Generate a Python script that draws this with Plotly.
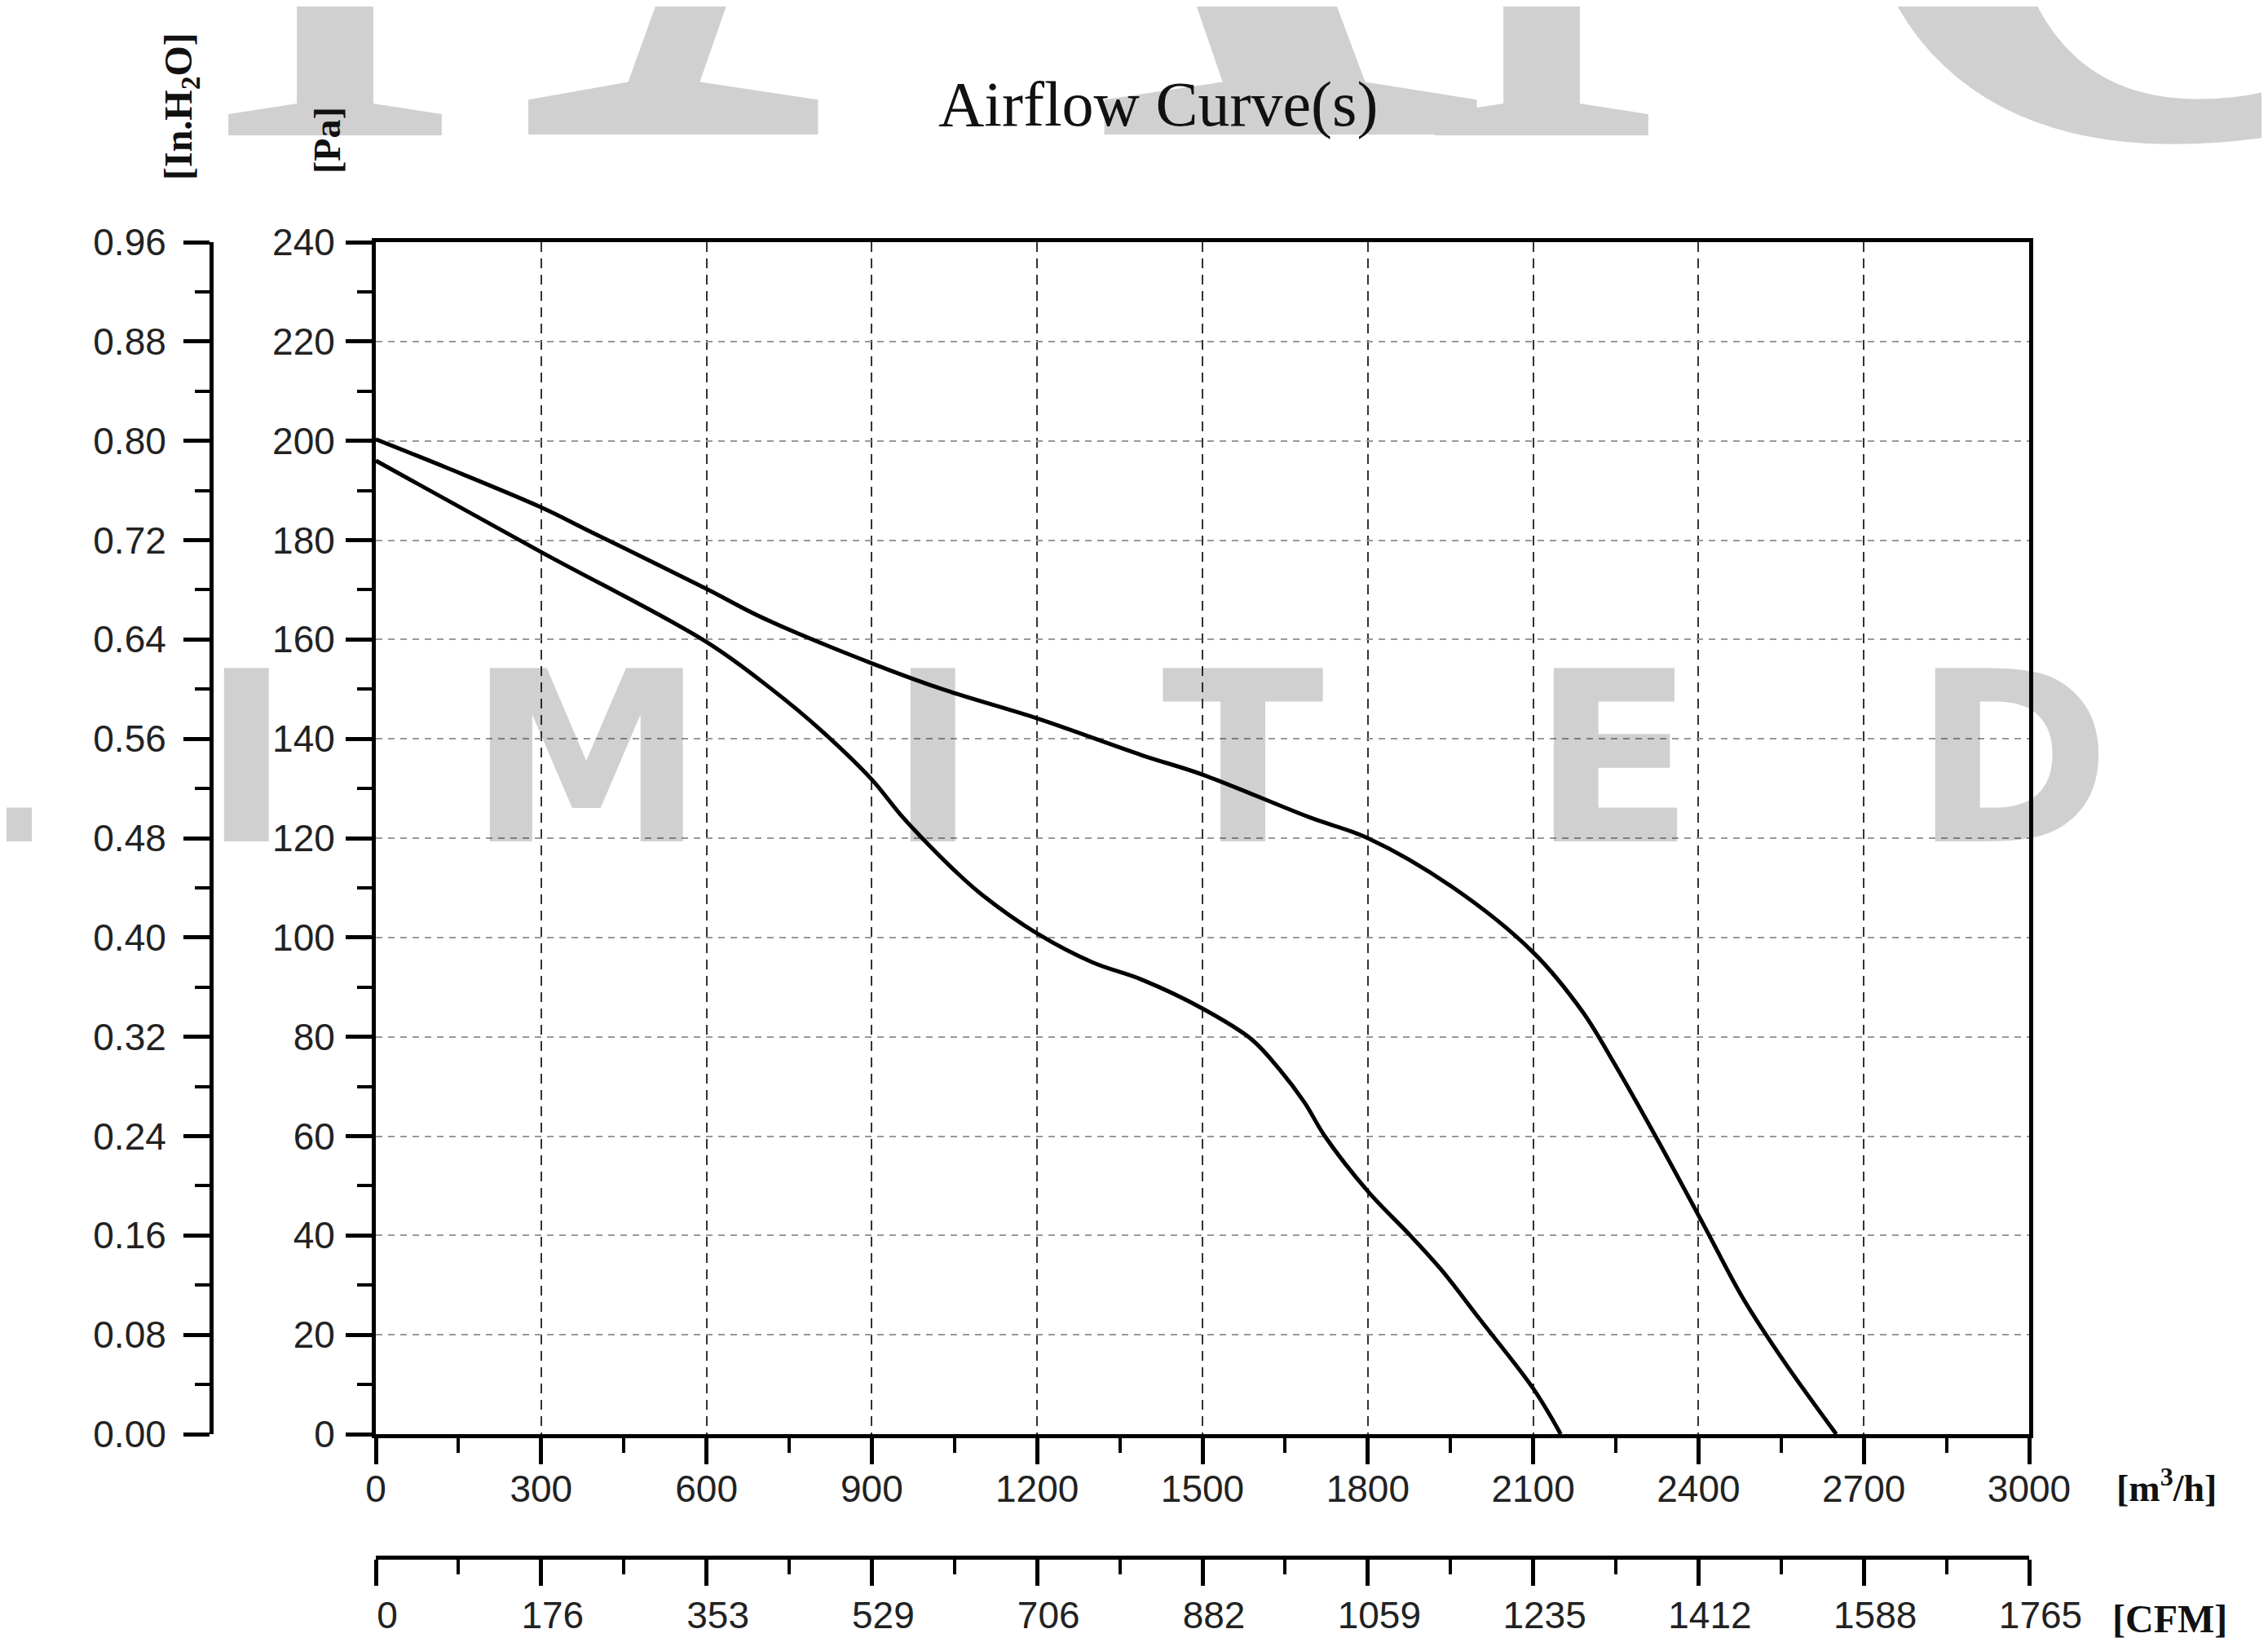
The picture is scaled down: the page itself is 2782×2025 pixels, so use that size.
import plotly.graph_objects as go

W, H = 2782, 2025

# ---------------- data ----------------
upper_flow = [0, 128, 300, 386, 600, 703, 900, 1033, 1200, 1390, 1500, 1694, 1800, 1954,
              2100, 2190, 2240, 2322, 2410, 2480, 2556, 2650]
upper_pa = [200.3, 194.6, 186.6, 181.9, 170.2, 164.3, 155.2, 149.8, 144.1, 136.7, 132.8, 124.2,
            120.0, 110.1, 97.0, 85.0, 76.0, 60.0, 42.0, 27.5, 14.5, 0.0]

lower_flow = [0, 300, 600, 717, 808, 900, 950, 1000, 1050, 1100, 1200, 1300, 1390, 1500, 1589,
              1640, 1685, 1722, 1800, 1877, 1934, 2002, 2100, 2150]
lower_pa = [196.0, 177.6, 159.5, 150.1, 141.7, 131.8, 125.0, 119.0, 113.5, 108.6, 100.8, 95.0,
            91.5, 85.7, 79.5, 73.4, 66.8, 60.0, 48.9, 40.0, 33.0, 23.3, 9.2, 0.0]

flow_ticks = [0, 300, 600, 900, 1200, 1500, 1800, 2100, 2400, 2700, 3000]
cfm_labels = ["0", "176", "353", "529", "706", "882", "1059", "1235", "1412", "1588", "1765"]

title_text = "Airflow Curve(s)"
wm_row1 = ["I", "A", "I", "<b>C</b>"]
wm_row2 = ["L", "I", "M", "I", "T", "E", "D"]

# ---------------- layout helpers (page pixel -> paper; page body has an 8px margin) ----------
OFF = 8

def fx(px):
    return (px - OFF) / W

def fy(py):
    return 1 - (py - OFF) / H

PL, PR, PT, PB = 461, 2489, 297, 1759
TICKFONT = dict(family="Liberation Sans, Arial, sans-serif", size=46, color="#222")
SERIF = "Liberation Serif, Times New Roman, serif"
WM_COLOR = "rgba(0,0,0,0.185)"
WM_SOLID = "#d0d0d0"

fig = go.Figure()
for xs, ys in [(upper_flow, upper_pa), (lower_flow, lower_pa)]:
    fig.add_trace(go.Scatter(x=xs, y=ys, mode="lines",
                             line=dict(color="black", width=5, shape="spline", smoothing=1.0),
                             showlegend=False, hoverinfo="skip"))
# empty trace to create the secondary axes
fig.add_trace(go.Scatter(x=[], y=[], xaxis="x2", yaxis="y2", showlegend=False))

common = dict(ticks="outside", ticklen=32, tickwidth=5, tickcolor="black",
              showline=True, linewidth=5, linecolor="black", zeroline=False,
              tickfont=TICKFONT, automargin=False)

def minor(dt):
    return dict(tick0=0, dtick=dt, ticks="outside", ticklen=18, tickwidth=4,
                tickcolor="black", showgrid=False)

fig.update_layout(
    width=W, height=H,
    margin=dict(l=0, r=0, t=0, b=0, autoexpand=False),
    paper_bgcolor="white", plot_bgcolor="white",
    xaxis=dict(domain=[fx(PL), fx(PR)], range=[0, 3000], tickmode="array", tickvals=flow_ticks,
               mirror=True, showgrid=True, gridcolor="#333", gridwidth=2, griddash="12px,8px",
               minor=minor(150), ticklabelstandoff=-9, **common),
    yaxis=dict(domain=[fy(PB), fy(PT)], range=[0, 240], tick0=0, dtick=20,
               mirror=True, showgrid=True, gridcolor="#999", gridwidth=2, griddash="8px,7px",
               minor=minor(10), ticklabelstandoff=4, **common),
    xaxis2=dict(overlaying="x", anchor="free", position=fy(1910), side="bottom",
                range=[0, 3000], tickmode="array", tickvals=flow_ticks, ticktext=cfm_labels,
                ticklabelshift=14, ticklabelstandoff=-3, showgrid=False,
                minor=minor(150), **common),
    yaxis2=dict(overlaying="y", anchor="free", position=fx(259), side="left",
                range=[0, 0.96], tick0=0, dtick=0.08, tickformat=".2f", showgrid=False,
                minor=minor(0.04), ticklabelstandoff=12, **common),
)

ann = []
# watermark, top row (large serif letters, mostly off the top edge)
BASE1 = 168
for ch, cx, sz in zip(wm_row1, [410, 1228, 1890, 2626], [1000, 1650, 1000, 1100]):
    ann.append(dict(x=fx(cx), y=fy(BASE1 + 0.216 * sz), xref="paper", yref="paper", text=ch,
                    showarrow=False, xanchor="center", yanchor="bottom",
                    font=dict(family=SERIF, size=sz, color=WM_SOLID)))
# watermark, middle row
for ch, cx in zip(wm_row2, [-46, 302, 719, 1144, 1525, 1978, 2468]):
    ann.append(dict(x=fx(cx), y=fy(931), xref="paper", yref="paper", text="<b>" + ch + "</b>",
                    showarrow=False, xanchor="center", yanchor="middle",
                    font=dict(family="DejaVu Sans, sans-serif", size=292, color=WM_COLOR)))

ann.append(dict(x=fx(1420), y=fy(128), xref="paper", yref="paper", text=title_text,
                showarrow=False, xanchor="center", yanchor="middle",
                font=dict(family=SERIF, size=78, color="#111")))
ann.append(dict(x=fx(222), y=fy(131), xref="paper", yref="paper",
                text="<b>[In.H<sub>2</sub>O]</b>", textangle=-90, showarrow=False,
                xanchor="center", yanchor="middle", font=dict(family=SERIF, size=48, color="#111")))
ann.append(dict(x=fx(402), y=fy(172), xref="paper", yref="paper", text="<b>[Pa]</b>",
                textangle=-90, showarrow=False, xanchor="center", yanchor="middle",
                font=dict(family=SERIF, size=46, color="#111")))
ann.append(dict(x=fx(2657), y=fy(1822), xref="paper", yref="paper",
                text="<b>[m<sup>3</sup>/h]</b>", showarrow=False, xanchor="center",
                yanchor="middle", font=dict(family=SERIF, size=46, color="#111")))
ann.append(dict(x=fx(2661), y=fy(1985), xref="paper", yref="paper", text="<b>[CFM]</b>",
                showarrow=False, xanchor="center", yanchor="middle",
                font=dict(family=SERIF, size=48, color="#111")))
fig.update_layout(annotations=ann)

fig.write_html("out.html")
